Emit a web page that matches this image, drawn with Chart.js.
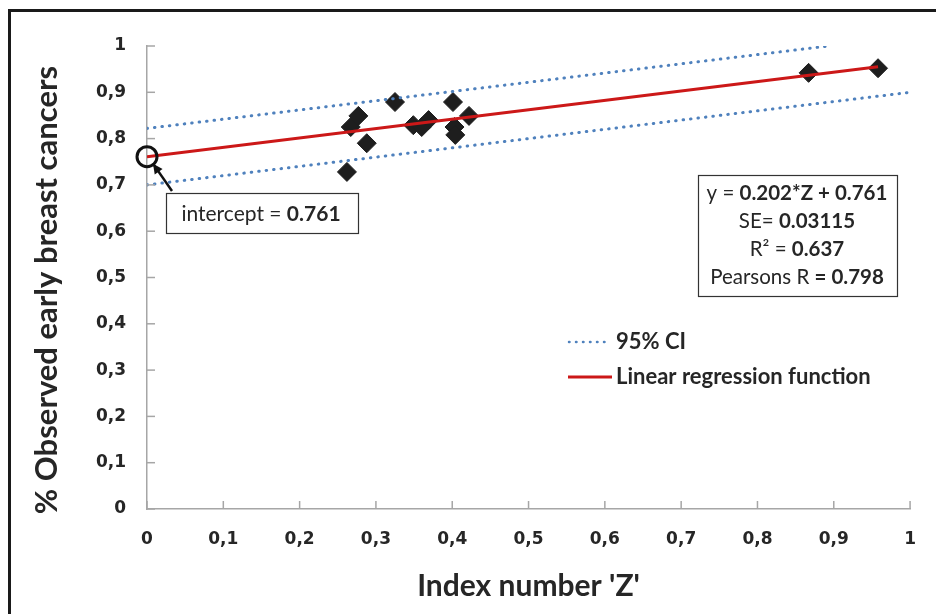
<!DOCTYPE html>
<html>
<head>
<meta charset="utf-8">
<script src="https://cdn.jsdelivr.net/npm/chart.js@4/dist/chart.umd.min.js"></script>
<style>
  body { margin: 0; background: #fff; }
  #wrap { width: 936px; height: 614px; }
</style>
</head>
<body>
<div id="wrap"><canvas id="chart" width="936" height="614"></canvas></div>
<script>
// Дані
const zIndex = [0.262, 0.267, 0.277, 0.288, 0.325, 0.349, 0.360, 0.369, 0.401, 0.403, 0.404, 0.422, 0.867, 0.958]
const observed = [0.728, 0.825, 0.849, 0.790, 0.879, 0.829, 0.825, 0.840, 0.879, 0.825, 0.808, 0.849, 0.942, 0.952]

// Лінія регресії y = 0.202*Z + 0.761 (кінцеві точки)
const regressionZ = [0, 0.958]
const regressionY = [0.761, 0.955]

// Межі 95% довірчого інтервалу
const ciUpperZ = [0, 0.893]
const ciUpperY = [0.822, 1.0]
const ciLowerZ = [0, 1.0]
const ciLowerY = [0.700, 0.900]

const axisTicks = [0, 0.1, 0.2, 0.3, 0.4, 0.5, 0.6, 0.7, 0.8, 0.9, 1]
const yTitle = "% Observed early breast cancers"

const textColor = "#262626"
const fontFamily = "Lato, 'Open Sans', sans-serif"
const tickFamily = "'DejaVu Sans', Verdana, sans-serif"

function toPoints(xs, ys) {
  return xs.map((x, i) => ({ x: x, y: ys[i] }))
}

function commaLabel(v) {
  const r = Math.round(v * 10) / 10
  return String(r).replace(".", ",")
}

// Малюємо текст з частинами різної жирності, центрований
function drawMixed(ctx, parts, cx, cy, size) {
  let total = 0
  parts.forEach((p) => {
    ctx.font = `${p.bold ? "bold " : ""}${size}px ${fontFamily}`
    p.w = ctx.measureText(p.text).width
    total += p.w
  })
  let x = cx - total / 2
  parts.forEach((p) => {
    ctx.font = `${p.bold ? "bold " : ""}${size}px ${fontFamily}`
    ctx.fillText(p.text, x, cy)
    x += p.w
  })
}

const overlayPlugin = {
  id: "overlay",
  afterDraw(chart) {
    const ctx = chart.ctx
    const xs = chart.scales.x
    const ys = chart.scales.y
    const area = chart.chartArea
    ctx.save()

    // внутрішні позначки шкал
    ctx.strokeStyle = "#a6a6a6"
    ctx.lineWidth = 1.5
    axisTicks.forEach((v) => {
      const px = xs.getPixelForValue(v)
      ctx.beginPath()
      ctx.moveTo(px, area.bottom)
      ctx.lineTo(px, area.bottom - 8)
      ctx.stroke()
      const py = ys.getPixelForValue(v)
      ctx.beginPath()
      ctx.moveTo(area.left, py)
      ctx.lineTo(area.left + 8, py)
      ctx.stroke()
    })

    // рамка зображення
    ctx.strokeStyle = "#1a1a1a"
    ctx.lineWidth = 3
    ctx.beginPath()
    ctx.moveTo(9.5, 614)
    ctx.lineTo(9.5, 10.5)
    ctx.lineTo(936, 10.5)
    ctx.stroke()

    // заголовок осі Y (трохи нижче центру, як в оригіналі)
    ctx.save()
    ctx.translate(47, 290)
    ctx.rotate(-Math.PI / 2)
    ctx.fillStyle = textColor
    ctx.textAlign = "center"
    ctx.textBaseline = "middle"
    ctx.font = `bold 31px ${fontFamily}`
    ctx.fillText(yTitle, 0, 0)
    ctx.restore()

    // коло на перетині з віссю
    const ix = xs.getPixelForValue(regressionZ[0])
    const iy = ys.getPixelForValue(regressionY[0])
    ctx.strokeStyle = "#111"
    ctx.lineWidth = 3
    ctx.beginPath()
    ctx.arc(ix, iy, 10, 0, Math.PI * 2)
    ctx.stroke()

    // стрілка
    const ax0 = 172, ay0 = 191, ax1 = ix + 6, ay1 = iy + 7
    ctx.lineWidth = 2.5
    ctx.beginPath()
    ctx.moveTo(ax0, ay0)
    ctx.lineTo(ax1, ay1)
    ctx.stroke()
    const ang = Math.atan2(ay1 - ay0, ax1 - ax0)
    ctx.fillStyle = "#111"
    ctx.beginPath()
    ctx.moveTo(ax1, ay1)
    ctx.lineTo(ax1 - 11 * Math.cos(ang - 0.45), ay1 - 11 * Math.sin(ang - 0.45))
    ctx.lineTo(ax1 - 11 * Math.cos(ang + 0.45), ay1 - 11 * Math.sin(ang + 0.45))
    ctx.closePath()
    ctx.fill()

    // блок intercept
    ctx.fillStyle = "#fff"
    ctx.fillRect(166, 193, 192, 40)
    ctx.strokeStyle = "#333"
    ctx.lineWidth = 1.2
    ctx.strokeRect(166.5, 193.5, 192, 40)
    ctx.fillStyle = textColor
    ctx.textBaseline = "middle"
    drawMixed(ctx, [{ text: "intercept = ", bold: false }, { text: "0.761", bold: true }], 261, 214, 21)

    // блок статистики
    ctx.fillStyle = "#fff"
    ctx.fillRect(698, 175, 199, 121)
    ctx.strokeStyle = "#333"
    ctx.lineWidth = 1.2
    ctx.strokeRect(698.5, 175.5, 199, 121)
    ctx.fillStyle = textColor
    const cx = 797
    drawMixed(ctx, [{ text: "y = ", bold: false }, { text: "0.202*Z + 0.761", bold: true }], cx, 193, 20.5)
    drawMixed(ctx, [{ text: "SE= ", bold: false }, { text: "0.03115", bold: true }], cx, 221, 20.5)
    drawMixed(ctx, [{ text: "R² = ", bold: false }, { text: "0.637", bold: true }], cx, 249, 20.5)
    drawMixed(ctx, [{ text: "Pearsons R ", bold: false }, { text: "= 0.798", bold: true }], cx, 277, 20.5)

    // легенда
    const ci = chart.data.datasets[1]
    const reg = chart.data.datasets[0]
    ctx.strokeStyle = ci.borderColor
    ctx.lineWidth = 2.5
    ctx.lineCap = "round"
    ctx.setLineDash([0.5, 6.5])
    ctx.beginPath()
    ctx.moveTo(569, 342)
    ctx.lineTo(609, 342)
    ctx.stroke()
    ctx.setLineDash([])
    ctx.lineCap = "butt"
    ctx.strokeStyle = reg.borderColor
    ctx.lineWidth = 3
    ctx.beginPath()
    ctx.moveTo(568, 377)
    ctx.lineTo(612, 377)
    ctx.stroke()
    ctx.fillStyle = textColor
    ctx.textAlign = "left"
    ctx.font = `bold 22px ${fontFamily}`
    ctx.fillText("95% CI", 616, 342)
    ctx.fillText("Linear regression function", 616, 377)

    ctx.restore()
  },
}

const ciStyle = {
  type: "line",
  borderColor: "#4f81bd",
  borderWidth: 3,
  borderDash: [0.5, 7],
  borderCapStyle: "round",
  pointRadius: 0,
  fill: false,
}

new Chart(document.getElementById("chart"), {
  type: "scatter",
  data: {
    datasets: [
      {
        type: "line",
        label: "Linear regression function",
        data: toPoints(regressionZ, regressionY),
        borderColor: "#cc1818",
        borderWidth: 3,
        pointRadius: 0,
        fill: false,
      },
      Object.assign({ label: "95% CI", data: toPoints(ciUpperZ, ciUpperY) }, ciStyle),
      Object.assign({ label: "95% CI lower", data: toPoints(ciLowerZ, ciLowerY) }, ciStyle),
      {
        label: "Observed",
        data: toPoints(zIndex, observed),
        pointStyle: "rectRot",
        pointRadius: 9.5,
        backgroundColor: "#1e1e1e",
        borderColor: "#1e1e1e",
        borderWidth: 1,
      },
    ],
  },
  options: {
    responsive: false,
    animation: false,
    layout: { padding: { top: 46, right: 21, left: 0, bottom: 0 } },
    plugins: {
      legend: { display: false },
      tooltip: { enabled: false },
    },
    scales: {
      x: {
        type: "linear",
        min: 0,
        max: 1,
        afterBuildTicks: (scale) => {
          scale.ticks = axisTicks.map((v) => ({ value: v }))
        },
        afterFit: (scale) => {
          scale.height = 105
        },
        grid: { display: false, drawTicks: false },
        border: { display: true, color: "#a6a6a6", width: 1.5 },
        ticks: {
          padding: 20,
          color: textColor,
          font: { family: tickFamily, size: 17, weight: "bold" },
          callback: (v) => commaLabel(v),
        },
        title: {
          display: true,
          text: "Index number 'Z'",
          color: textColor,
          font: { family: fontFamily, size: 30, weight: "bold" },
          padding: { top: 0, bottom: 10 },
        },
      },
      y: {
        type: "linear",
        min: 0,
        max: 1,
        afterBuildTicks: (scale) => {
          scale.ticks = axisTicks.map((v) => ({ value: v }))
        },
        afterFit: (scale) => {
          scale.width = 147
        },
        grid: { display: false, drawTicks: false },
        border: { display: true, color: "#a6a6a6", width: 1.5 },
        ticks: {
          padding: 21,
          color: textColor,
          font: { family: tickFamily, size: 17, weight: "bold" },
          callback: (v) => commaLabel(v),
        },
        title: { display: false },
      },
    },
  },
  plugins: [overlayPlugin],
})
</script>
</body>
</html>
